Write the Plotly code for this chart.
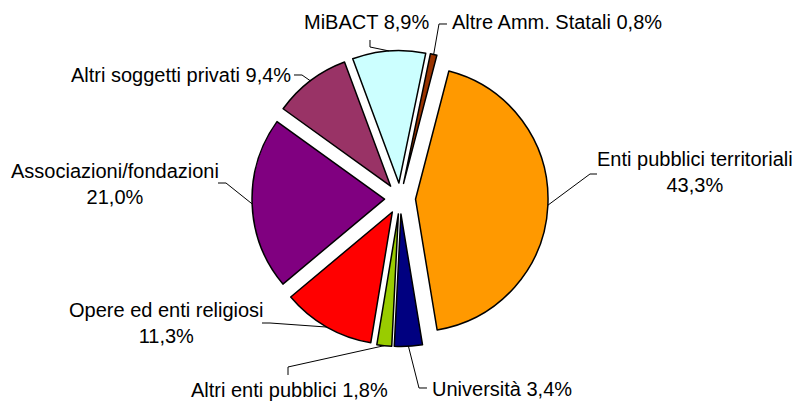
import math

import plotly.graph_objects as go

# Slices, clockwise from the top
labels = [
    "Altre Amm. Statali",
    "Enti pubblici territoriali",
    "Università",
    "Altri enti pubblici",
    "Opere ed enti religiosi",
    "Associazioni/fondazioni",
    "Altri soggetti privati",
    "MiBACT",
]
shares = [0.8, 43.3, 3.4, 1.8, 11.3, 21.0, 9.4, 8.9]
colours = [
    "#993300", "#FF9900", "#000080", "#99CC00",
    "#FF0000", "#800080", "#993366", "#CCFFFF",
]

W, H = 793, 401
ROTATION = 11.7
PULL = 0.117
DOM_X = [0.3178, 0.6911]
DOM_Y = [0.1359, 0.8741]

# label placement (pixel centre of text, anchor, two-line or not) + elbow of leader
# (text_x, text_y, xanchor, two_lines, elbow, stub_end)
label_layout = {
    "Altre Amm. Statali": (450, 22, "left", False, (439, 24), (447, 24)),
    "Enti pubblici territoriali": (695, 172, "center", True, (590, 174), (597, 174)),
    "Università": (430, 389, "left", False, (419, 388), (427, 388)),
    "Altri enti pubblici": (289, 390, "center", False, (288, 367), (288, 375)),
    "Opere ed enti religiosi": (166, 323, "center", True, (270, 323), (262, 323)),
    "Associazioni/fondazioni": (115, 184, "center", True, (226, 183), (218, 183)),
    "Altri soggetti privati": (293, 75, "right", False, (302, 75), (294, 75)),
    "MiBACT": (431, 22, "right", False, (370, 47), (370, 40)),
}


def fmt(v):
    return f"{v:.1f}".replace(".", ",") + "%"


def px(x, y):
    return x / W, 1 - y / H


# pie geometry as plotly computes it
cx = W * (DOM_X[0] + DOM_X[1]) / 2
box_h = H * (DOM_Y[1] - DOM_Y[0])
cy = H * (1 - DOM_Y[0]) - box_h / 2
r_outer = min(W * (DOM_X[1] - DOM_X[0]), box_h) / 2  # r * (1 + pull)

total = sum(shares)
annotations = []
shapes = []
cum = 0.0
for lab, v in zip(labels, shares):
    mid = math.radians(ROTATION + 360 * (cum + v / 2) / total)
    cum += v
    ax = cx + r_outer * math.sin(mid)
    ay = cy - r_outer * math.cos(mid)
    tx, ty, xa, two, elbow, stub = label_layout[lab]
    text = f"{lab}<br>{fmt(v)}" if two else f"{lab} {fmt(v)}"
    x, y = px(tx, ty)
    annotations.append(dict(
        x=x, y=y, xref="paper", yref="paper", text=text, showarrow=False,
        xanchor=xa, yanchor="middle", align="center",
        font=dict(family="Arial, Liberation Sans", size=20, color="#000000"),
    ))
    pts = [px(ax, ay), px(*elbow), px(*stub)]
    path = "M " + " L ".join(f"{p[0]:.5f},{p[1]:.5f}" for p in pts)
    shapes.append(dict(
        type="path", path=path, xref="paper", yref="paper",
        line=dict(color="#000000", width=1),
    ))

fig = go.Figure(
    go.Pie(
        labels=labels,
        values=shares,
        sort=False,
        direction="clockwise",
        rotation=ROTATION,
        pull=[PULL] * len(shares),
        marker=dict(colors=colours, line=dict(color="#000000", width=1.5)),
        textinfo="none",
        hoverinfo="label+percent",
        domain=dict(x=DOM_X, y=DOM_Y),
    )
)
fig.update_layout(
    width=W,
    height=H,
    showlegend=False,
    margin=dict(l=0, r=0, t=0, b=0),
    paper_bgcolor="#ffffff",
    plot_bgcolor="#ffffff",
    annotations=annotations,
    shapes=shapes,
)
fig.write_html(
    "out.html",
    config={"displayModeBar": False},
    post_script="document.body.style.margin='0';",
)
